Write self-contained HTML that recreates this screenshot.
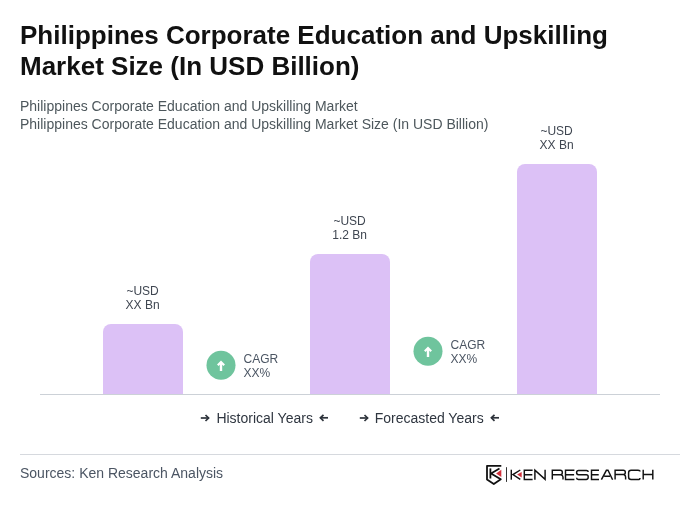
<!DOCTYPE html>
<html><head><meta charset="utf-8">
<style>
*{margin:0;padding:0;box-sizing:border-box;}
html,body{width:700px;height:520px;background:#fff;overflow:hidden;}
body{font-family:"Liberation Sans",sans-serif;position:relative;}
.wrap{position:absolute;left:0;top:0;width:700px;height:520px;will-change:transform;background:#fff;}
.abs{position:absolute;white-space:nowrap;}
h1{position:absolute;left:20px;top:20px;font-size:26px;line-height:31px;font-weight:bold;color:#111;white-space:nowrap;}
.sub{left:20px;font-size:14px;line-height:18px;color:#4d575c;}
.bar{position:absolute;background:#dcc1f6;border-radius:8px 8px 0 0;width:80px;}
.lbl{position:absolute;margin-left:-0.4px;font-size:12px;line-height:14px;color:#3f4651;text-align:center;width:80px;}
.axis{position:absolute;left:40px;top:394px;width:620px;height:1px;background:#ccd1d7;}
.cagr{position:absolute;width:30px;height:30px;}
.ctext{position:absolute;font-size:12px;line-height:14px;color:#4b5563;}
.leg{position:absolute;top:410px;font-size:14px;line-height:16px;color:#2f3640;white-space:nowrap;}
.foot{position:absolute;left:20px;top:454px;width:660px;height:1px;background:#d6d9de;}
svg{position:absolute;overflow:visible;}
</style></head><body><div class="wrap">
<h1>Philippines Corporate Education and Upskilling<br>Market Size (In USD Billion)</h1>
<div class="abs sub" style="top:97px">Philippines Corporate Education and Upskilling Market</div>
<div class="abs sub" style="top:115px">Philippines Corporate Education and Upskilling Market Size (In USD Billion)</div>

<div class="lbl" style="left:103px;top:284px">~USD<br>XX Bn</div>
<div class="bar" style="left:103px;top:324px;height:70px"></div>

<svg class="cagr" style="left:206px;top:350px" width="30" height="30" viewBox="0 0 30 30"><circle cx="15" cy="15.25" r="14.5" fill="#6fc49d"/><path d="M15 21 V13" stroke="#fff" stroke-width="2.4" fill="none"/><path d="M11.8 15.2 L15 12 L18.2 15.2" stroke="#fff" stroke-width="2.2" fill="none" stroke-linejoin="miter"/></svg>
<div class="ctext" style="left:243.5px;top:352px">CAGR<br>XX%</div>

<div class="lbl" style="left:310px;top:214px">~USD<br>1.2 Bn</div>
<div class="bar" style="left:310px;top:254px;height:140px"></div>

<svg class="cagr" style="left:413px;top:336px" width="30" height="30" viewBox="0 0 30 30"><circle cx="15" cy="15.25" r="14.5" fill="#6fc49d"/><path d="M15 21 V13" stroke="#fff" stroke-width="2.4" fill="none"/><path d="M11.8 15.2 L15 12 L18.2 15.2" stroke="#fff" stroke-width="2.2" fill="none" stroke-linejoin="miter"/></svg>
<div class="ctext" style="left:450.5px;top:338px">CAGR<br>XX%</div>

<div class="lbl" style="left:517px;top:124px">~USD<br>XX Bn</div>
<div class="bar" style="left:517px;top:164px;height:230px"></div>

<div class="axis"></div>

<svg style="left:0;top:0" width="700" height="520" viewBox="0 0 700 520">
<g stroke="#2d333b" stroke-width="1.7" fill="none">
<path d="M200.8 418 H209"/><path d="M205.5 415 L208.6 418 L205.5 421"/>
<path d="M328 417.8 H320"/><path d="M323.5 414.8 L320.4 417.8 L323.5 420.8"/>
<path d="M359.8 418 H368"/><path d="M364.5 415 L367.6 418 L364.5 421"/>
<path d="M499 417.8 H491"/><path d="M494.5 414.8 L491.4 417.8 L494.5 420.8"/>
</g>
</svg>
<div class="leg" style="left:216.4px">Historical Years</div>
<div class="leg" style="left:374.7px">Forecasted Years</div>

<div class="foot"></div>
<div class="abs" style="left:20px;top:465px;font-size:14px;line-height:16px;color:#4b5563">Sources: Ken Research Analysis</div>

<svg style="left:0;top:0" width="700" height="520" viewBox="0 0 700 520">
<g stroke="#111" stroke-width="1.8" fill="none" stroke-linejoin="round">
<path d="M501.3 465.8 H487 V479.5 L493.8 484 L500.8 479.3 L491 473.5 L499.5 468.5"/>
<path d="M490.4 468.4 V478.5"/>
</g>
<path d="M496.1 473.6 L501.3 469.8 V476.9 Z" fill="#d2323c"/>
<path d="M506.5 467.2 V481.9" stroke="#333" stroke-width="1"/>
<g stroke="#111" stroke-width="1.45" fill="none">
<path d="M511.3 469.7 V479.7"/>
<path d="M520.3 470 L512.9 474.6 L520.3 479.4"/>
<path d="M532.6 470.3 H524.3 V479.5 H532.6 M524.3 474.7 H532.3"/>
<path d="M534.9 479.7 V470.2 L545.1 479.4 V469.8"/>
<path d="M552.3 479.6 V470.3 H560.3 Q562.3 470.3 562.3 472.3 V472.8 Q562.3 474.8 560.3 474.8 H552.3 M560.8 474.8 Q562.8 475.2 563 477 V479.6"/>
<path d="M574.4 470.3 H565.5 V479.5 H574.4 M565.5 474.7 H574.1"/>
<path d="M588.2 472 Q588.2 470.4 586.4 470.4 H578.6 Q576.6 470.4 576.6 472.5 Q576.6 474.65 578.6 474.65 H586.2 Q588.2 474.65 588.2 476.8 V477.3 Q588.2 479.4 586.2 479.4 H578.4 Q576.6 479.4 576.6 477.8"/>
<path d="M599 470.3 H591.5 V479.5 H599 M591.5 474.7 H598.7"/>
<path d="M601.4 479.7 L606.4 470.3 H608 L612.6 479.7 M604.2 476.3 H610"/>
<path d="M615.1 479.6 V470.3 H623.3 Q625.3 470.3 625.3 472.3 V472.5 Q625.3 474.5 623.3 474.5 H615.1 M623.8 474.5 Q625.6 475 625.6 477 V479.6"/>
<path d="M640 471.6 Q640 470.2 638 470.2 H631.1 Q628.6 470.2 628.6 472.7 V477 Q628.6 479.5 631.1 479.5 H638 Q640 479.5 640 477.9"/>
<path d="M643.2 469.8 V479.6 M652.8 469.8 V479.6 M643.2 474.5 H652.8"/>
</g>
<path d="M517.1 474.6 L521.7 472 V477.4 Z" fill="#d2323c"/>
</svg>
</div></body></html>
